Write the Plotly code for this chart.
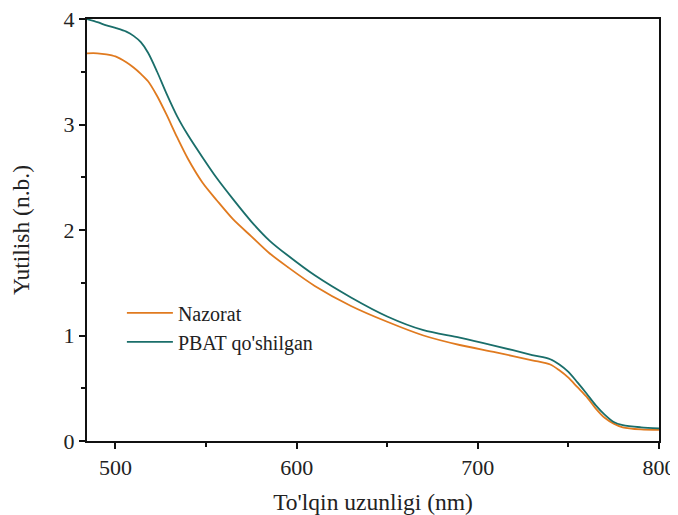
import plotly.graph_objects as go

wavelength = [484, 490, 495, 500, 506, 510, 514, 518, 523, 528, 534, 540, 548, 556, 565, 575, 585, 595, 610, 630,
              650, 670, 690, 710, 730, 740, 745, 750, 755, 760, 765, 770, 775, 780, 790, 800]
nazorat = [3.675, 3.675, 3.665, 3.645, 3.59, 3.54, 3.48, 3.41, 3.27, 3.10, 2.88, 2.675, 2.45, 2.28, 2.10, 1.94, 1.78, 1.65, 1.47, 1.28,
           1.13, 1.00, 0.91, 0.84, 0.765, 0.725, 0.67, 0.60, 0.51, 0.42, 0.31, 0.22, 0.165, 0.13, 0.11, 0.105]
pbat = [4.00, 3.97, 3.94, 3.915, 3.88, 3.84, 3.78, 3.68, 3.50, 3.30, 3.08, 2.90, 2.69, 2.49, 2.29, 2.08, 1.90, 1.76, 1.57, 1.36,
        1.18, 1.05, 0.98, 0.90, 0.815, 0.775, 0.725, 0.655, 0.555, 0.45, 0.34, 0.25, 0.18, 0.15, 0.13, 0.12]

names = ["Nazorat", "PBAT qo'shilgan"]
colors = ["#E07A1F", "#1A6E6A"]

x_ticks = [500, 600, 700, 800]
x_minor = [550, 650, 750]
y_ticks = [0, 1, 2, 3, 4]
y_minor = [0.5, 1.5, 2.5, 3.5]

fig = go.Figure()
for name, ys, c in zip(names, [nazorat, pbat], colors):
    fig.add_trace(go.Scatter(x=wavelength, y=ys, mode="lines", name=name,
                             line=dict(color=c, width=1.8, shape="spline", smoothing=0.8)))

font_family = "Liberation Serif, Times New Roman, serif"
axis_common = dict(ticks="outside", ticklen=6, tickwidth=1.5, tickcolor="#111",
                   showline=True, linecolor="#111", linewidth=2, mirror=True,
                   showgrid=False, zeroline=False, automargin=False,
                   ticklabeloverflow="allow",
                   tickfont=dict(size=22, family=font_family, color="#222"))
fig.update_layout(
    width=670, height=507,
    margin=dict(l=79, r=19, t=11, b=74),
    plot_bgcolor="white", paper_bgcolor="white",
    font=dict(family=font_family, size=20, color="#222"),
    showlegend=True,
    legend=dict(x=0.061, y=0.35, xanchor="left", yanchor="top",
                bgcolor="rgba(0,0,0,0)", font=dict(size=20, family=font_family),
                tracegroupgap=0, itemwidth=46),
    xaxis=dict(range=[484.3, 800], tickvals=x_ticks,
               minor=dict(tickvals=x_minor, ticks="outside", ticklen=4, tickcolor="#111", tickwidth=1.5),
               title=dict(text="To'lqin uzunligi (nm)", font=dict(size=23.5, family=font_family), standoff=28),
               **axis_common),
    yaxis=dict(range=[0, 4], tickvals=y_ticks,
               minor=dict(tickvals=y_minor, ticks="outside", ticklen=4, tickcolor="#111", tickwidth=1.5),
               title=dict(text="Yutilish (n.b.)", font=dict(size=23.5, family=font_family), standoff=30),
               **axis_common),
)

fig.write_html("out.html")
